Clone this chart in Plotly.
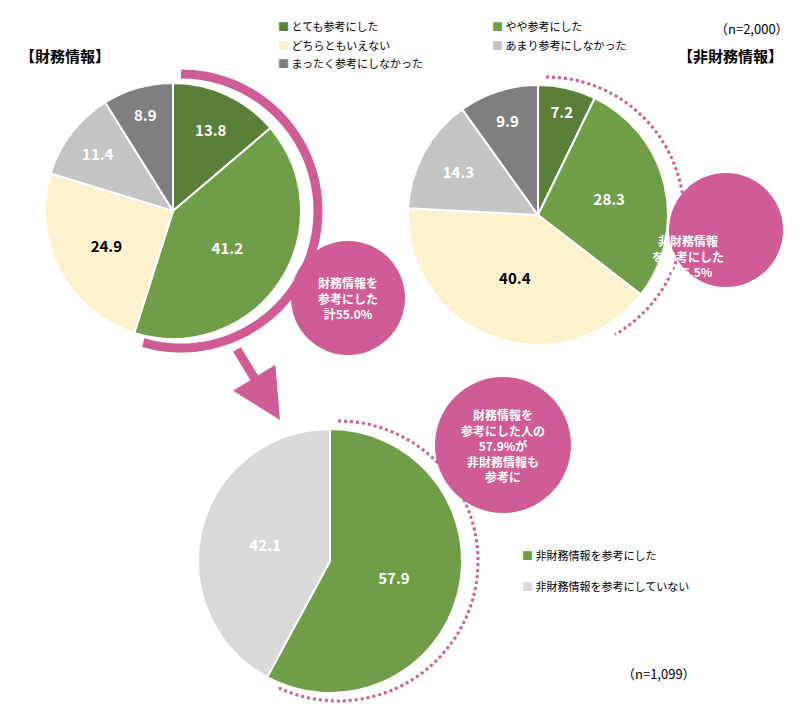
import plotly.graph_objects as go
import numpy as np

W, H = 800, 704
cats1 = ["とても参考にした", "やや参考にした", "どちらともいえない", "あまり参考にしなかった", "まったく参考にしなかった"]
fin_vals = [13.8, 41.2, 24.9, 11.4, 8.9]
nonfin_vals = [7.2, 28.3, 40.4, 14.3, 9.9]
cats2 = ["非財務情報を参考にした", "非財務情報を参考にしていない"]
sub_vals = [57.9, 42.1]

c5 = ["#5a7f38", "#6f9d48", "#fcf1cd", "#c4c4c4", "#7f7f7f"]
t5 = ["white", "white", "black", "white", "white"]
c2 = ["#6f9d48", "#d9d9d9"]
PINK = "#cf5c94"
FONT = "Noto Sans CJK JP"

def px(x): return x / W
def py(y): return 1 - y / H
def dom(cx, cy, r):
    return dict(x=[px(cx - r), px(cx + r)], y=[py(cy + r), py(cy - r)])

fig = go.Figure()
common = dict(sort=False, direction="clockwise", rotation=0, textinfo="text",
              textposition="inside", showlegend=False, hoverinfo="skip",
              insidetextorientation="horizontal")
fig.add_trace(go.Pie(labels=cats1, values=fin_vals, text=[f"{v:.1f}" for v in fin_vals],
                     marker=dict(colors=c5, line=dict(color="white", width=2)),
                     textfont=dict(color=t5, size=15, family=FONT, weight="bold"),
                     domain=dom(165, 203, 128), **common))
fig.add_trace(go.Pie(labels=cats1, values=nonfin_vals, text=[f"{v:.1f}" for v in nonfin_vals],
                     marker=dict(colors=c5, line=dict(color="white", width=2)),
                     textfont=dict(color=t5, size=15, family=FONT, weight="bold"),
                     domain=dom(530, 207, 130), **common))
fig.add_trace(go.Pie(labels=cats2, values=sub_vals, text=[f"{v:.1f}" for v in sub_vals],
                     marker=dict(colors=c2, line=dict(color="white", width=2)),
                     textfont=dict(color=["white", "white"], size=15, family=FONT, weight="bold"),
                     domain=dom(322, 553, 132), **common))

def arc_path(cx, cy, r, a0, a1, n=80):
    pts = []
    for a in np.linspace(a0, a1, n):
        t = np.radians(a)
        pts.append((px(cx + r * np.sin(t)), py(cy - r * np.cos(t))))
    return "M " + " L ".join(f"{x:.5f},{y:.5f}" for x, y in pts)

shapes = [
    dict(type="path", path=arc_path(173, 203, 137, 0, 196), xref="paper", yref="paper",
         line=dict(color=PINK, width=9)),
    dict(type="path", path=arc_path(538, 207, 138, 0, 150), xref="paper", yref="paper",
         line=dict(color=PINK, width=3, dash="dot")),
    dict(type="path", path=arc_path(330, 553, 140, 0, 205), xref="paper", yref="paper",
         line=dict(color=PINK, width=3, dash="dot")),
]
for cx, cy, r in [(340, 290, 57), (718, 222, 57), (495, 437, 68)]:
    shapes.append(dict(type="circle", xref="paper", yref="paper",
                       x0=px(cx - r), x1=px(cx + r), y0=py(cy + r), y1=py(cy - r),
                       fillcolor=PINK, line=dict(width=0), layer="above"))

ann = []
def text(x, y, s, size=13, color="black", bold=False, xanchor="left"):
    ann.append(dict(x=px(x), y=py(y), xref="paper", yref="paper", text=s, showarrow=False,
                    xanchor=xanchor, yanchor="middle",
                    font=dict(size=size, color=color, family=FONT, weight="bold" if bold else "normal")))

text(10, 48, "【財務情報】", 15, bold=True)
text(668, 48, "【非財務情報】", 15, bold=True)
text(783, 20, "（n=2,000）", 13, xanchor="right")
text(690, 665, "（n=1,099）", 13, xanchor="right")

leg = [(268, 18, 0), (268, 37, 2), (268, 55, 4), (482, 18, 1), (482, 37, 3)]
for x, y, i in leg:
    text(x, y, f"<span style='color:{c5[i]}'>■</span> {cats1[i]}", 11)
text(512, 547, f"<span style='color:{c2[0]}'>■</span> {cats2[0]}", 11)
text(512, 578, f"<span style='color:{c2[1]}'>■</span> {cats2[1]}", 11)

ann.append(dict(x=px(340), y=py(290), xref="paper", yref="paper", showarrow=False,
                text="財務情報を<br>参考にした<br>計55.0%", align="center",
                font=dict(size=12, color="white", family=FONT, weight="bold")))
ann.append(dict(x=px(718), y=py(222), xref="paper", yref="paper", showarrow=False,
                text="非財務情報<br>を参考にした<br>計35.5%", align="center",
                font=dict(size=12, color="white", family=FONT, weight="bold")))
ann.append(dict(x=px(495), y=py(437), xref="paper", yref="paper", showarrow=False,
                text="財務情報を<br>参考にした人の<br>57.9%が<br>非財務情報も<br>参考に", align="center",
                font=dict(size=12, color="white", family=FONT, weight="bold")))

ann.append(dict(x=px(272), y=py(412), ax=228 - 272, ay=340 - 412,
                xref="paper", yref="paper", showarrow=True, arrowhead=2, arrowsize=1.1,
                arrowwidth=9, arrowcolor=PINK, text=""))

fig.update_layout(width=W, height=H, margin=dict(l=0, r=0, t=0, b=0),
                  paper_bgcolor="white", plot_bgcolor="white",
                  shapes=shapes, annotations=ann, font=dict(family=FONT))
fig.write_html("out.html")
